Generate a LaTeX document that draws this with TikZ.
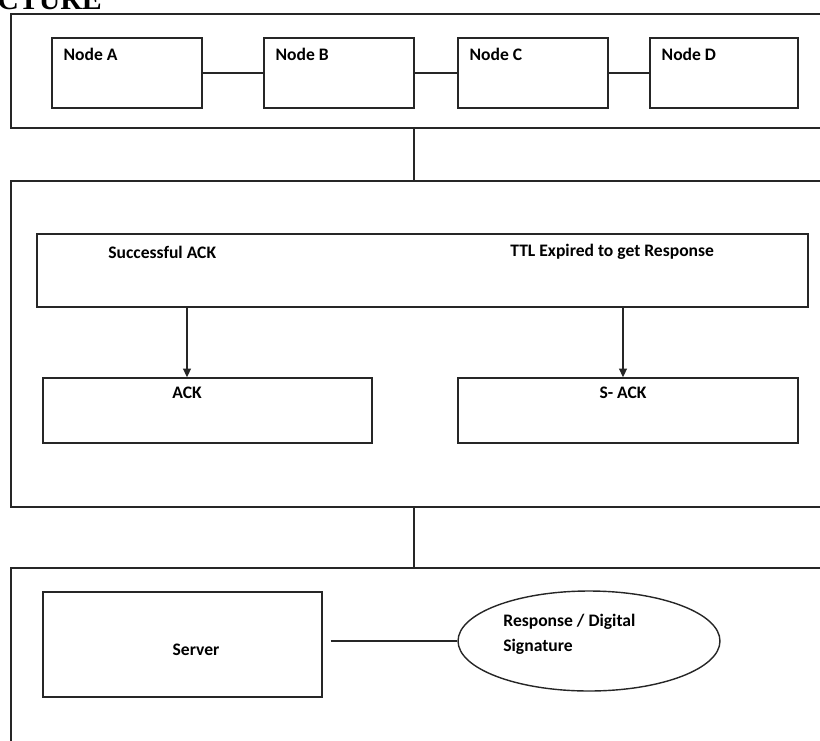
\documentclass[tikz,border=0pt]{standalone}
\usepackage{fontspec}
\setmainfont{Carlito}
\newfontfamily\headfont{Liberation Serif}
\usetikzlibrary{arrows.meta,shapes.geometric}

\tikzset{
  panel/.style = {draw=black!85, line width=0.8pt, inner sep=0pt},
  stepbox/.style = {draw=black!85, line width=0.8pt, inner sep=0pt},
  txt/.style = {font=\bfseries\fontsize{10}{12}\selectfont, inner sep=0pt},
  link/.style = {draw=black!85, line width=0.8pt},
  flow/.style = {link, -{Triangle[length=5pt,width=4.5pt]}}
}

\begin{document}
\begin{tikzpicture}[x=0.02cm, y=-0.02cm]
                \useasboundingbox (0,0) rectangle (820,740);
                \clip (0,0) rectangle (820,740);
                % heading, cut off at the top
                \node[anchor=base west, inner sep=0pt, font=\headfont\bfseries\fontsize{17}{18}\selectfont] (head) at (-3,10) {CTURE};
                % first tier: the nodes
                \node[panel, minimum width=16.38cm, minimum height=2.28cm] (tier1) at (420.5,71) {};
                \foreach \name/\cx/\w in {A/127/3cm, B/339/3cm, C/533/3cm, D/724/2.96cm}
                  \node[stepbox, minimum width=\w, minimum height=1.4cm] (node\name) at (\cx,73) {};
                \foreach \name in {A, B, C, D}
                  \node[txt, anchor=north west] (lbl\name) at ([xshift=0.24cm, yshift=-0.22cm]node\name.north west) {Node \name};
                \draw[link] (nodeA) -- (nodeB) (nodeB) -- (nodeC) (nodeC) -- (nodeD);
                \coordinate (mid) at (414,0);
                % second tier: acknowledgements
                \node[panel, minimum width=16.38cm, minimum height=6.52cm] (tier2) at (420.5,344) {};
                \node[stepbox, minimum width=15.42cm, minimum height=1.46cm] (decide) at (422.5,270.5) {};
                \node[txt, anchor=west] (succ) at (108,252) {Successful ACK};
                \node[txt, anchor=west] (ttl) at (510,252) {TTL Expired to get Response};
                \node[stepbox, minimum width=6.58cm, minimum height=1.3cm] (ack) at (207.5,410.5) {};
                \node[stepbox, minimum width=6.8cm, minimum height=1.3cm] (sack) at (628,410.5) {};
                \node[txt] (acklbl) at (187,393) {ACK};
                \node[txt] (sacklbl) at (623,393) {S- ACK};
                \draw[flow] (decide.south -| acklbl) -- (ack.north -| acklbl);
                \draw[flow] (decide.south -| sacklbl) -- (sack.north -| sacklbl);
                % third tier: server
                \node[panel, minimum width=16.38cm, minimum height=4cm] (tier3) at (420.5,668) {};
                \node[stepbox, minimum width=5.58cm, minimum height=2.1cm] (server) at (182.5,644.5) {};
                \node[txt] (srvlbl) at (196,650) {Server};
                \node[stepbox, ellipse, minimum width=5.24cm, minimum height=2cm] (resp) at (589,641) {};
                \node[txt, anchor=north west, align=left] (resplbl) at (503,614) {Response / Digital\\[2pt]Signature};
                \draw[link] ([xshift=0.16cm]server.east |- resp.west) -- (resp.west);
                \draw[link] (tier1.south -| mid) -- (tier2.north -| mid);
                \draw[link] (tier2.south -| mid) -- (tier3.north -| mid);
            \end{tikzpicture}
\end{document}
